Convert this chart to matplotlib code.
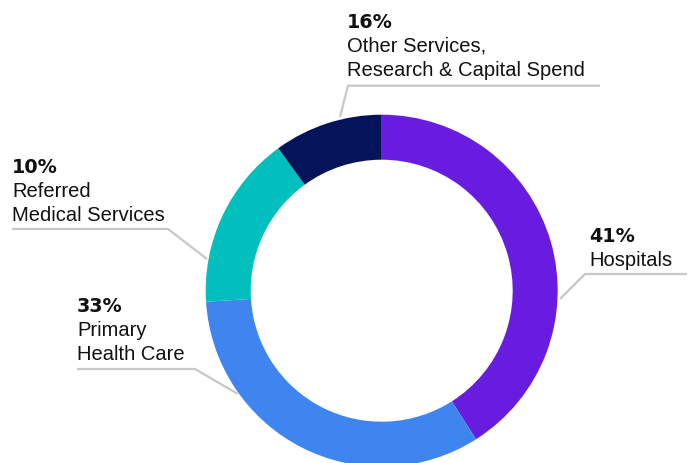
import matplotlib.pyplot as plt

# slice shares, clockwise from 12 o'clock
shares = [41, 33, 16, 10]
colors = ['#671ce0', '#3f85ef', '#00bfbc', '#04145a']

# label text as printed on the chart
pct_labels = ['41%', '33%', '10%', '16%']
name_labels = ['Hospitals', 'Primary\nHealth Care', 'Referred\nMedical Services',
               'Other Services,\nResearch & Capital Spend']

W, H = 690, 464
fig = plt.figure(figsize=(W / 100, H / 100), dpi=100)
ax = fig.add_axes([0, 0, 1, 1])

cx, cy, r = 381.7, H - 291.7, 176
ax.pie(shares, colors=colors, startangle=90, counterclock=False,
       center=(cx, cy), radius=r,
       wedgeprops=dict(width=45, linewidth=0))
ax.set_aspect('auto')
ax.set_xlim(0, W)
ax.set_ylim(0, H)
ax.axis('off')

# label blocks: x, baseline of the % line, leader polyline (pixel coords, y down)
layout = [
    (589, 241.7, [(560, 300), (585, 275), (687, 275)]),
    (77, 311.7, [(77, 370), (195, 370), (238, 395)]),
    (12, 173, [(12, 230), (168, 230), (207, 260)]),
    (347, 28, [(340, 118), (348, 86.7), (600, 86.7)]),
]

for pct, name, (x, y0, pts) in zip(pct_labels, name_labels, layout):
    ax.text(x, H - y0, pct, fontsize=13.8, fontweight='bold', family='DejaVu Sans',
            va='baseline', ha='left', color='#111111')
    for i, line in enumerate(name.split('\n')):
        ax.text(x, H - (y0 + 24 * (i + 1)), line, fontsize=14.5,
                family='Liberation Sans', va='baseline', ha='left', color='#111111')
    xs = [p[0] for p in pts]
    ys = [H - p[1] for p in pts]
    ax.plot(xs, ys, color='#c8c8c8', lw=1.6, solid_capstyle='butt')

fig.savefig('out.png', dpi=100)
